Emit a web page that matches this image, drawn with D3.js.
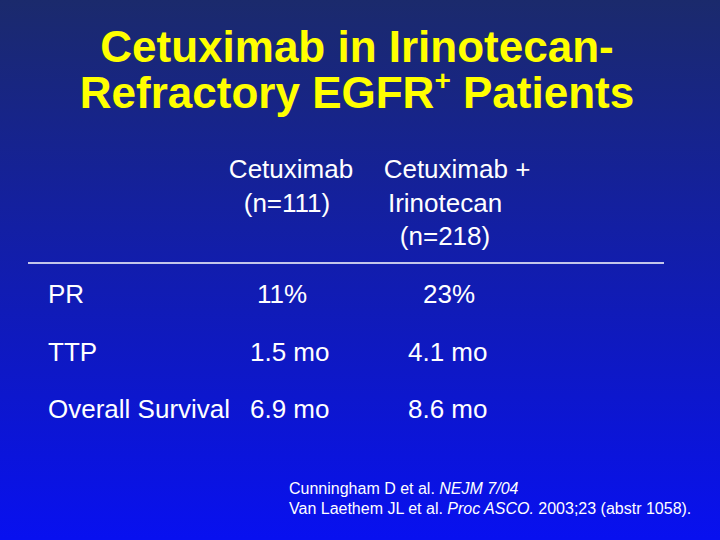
<!DOCTYPE html>
<meta charset="utf-8">
<title>Cetuximab</title>
<style>
body { margin: 0; }
text { font-family: "Liberation Sans", Arial, sans-serif; }
</style>
<body>
<script src="https://d3js.org/d3.v7.min.js"></script>
<script>

var titleLines = ["Cetuximab in Irinotecan-", "Refractory EGFR"];
var columns = [
  {lines: ["Cetuximab", "(n=111)"], dx: [0, -4]},
  {lines: ["Cetuximab +", "Irinotecan", "(n=218)"], dx: [0, -12, -12]}
];
var rows = ["PR", "TTP", "Overall Survival"];
var cetuximab = ["11%", "1.5 mo", "6.9 mo"];
var combo = ["23%", "4.1 mo", "8.6 mo"];
var refs = [
  [["Cunningham D et al. ", "normal"], ["NEJM 7/04", "italic"]],
  [["Van Laethem JL et al. ", "normal"], ["Proc ASCO.", "italic"], [" 2003;23 (abstr 1058).", "normal"]]
];

var svg = d3.select("body").append("svg")
    .attr("width", 720)
    .attr("height", 540);

// Background gradient, navy at top to bright blue at bottom.
var grad = svg.append("defs").append("linearGradient")
    .attr("id", "bg").attr("x1", 0).attr("y1", 0).attr("x2", 0).attr("y2", 1);
grad.append("stop").attr("offset", 0).attr("stop-color", "#1b2a6c");
grad.append("stop").attr("offset", 1).attr("stop-color", "#0810f0");
svg.append("rect").attr("width", 720).attr("height", 540).attr("fill", "url(#bg)");

// Title
var title = svg.selectAll(".title")
    .data(titleLines)
  .enter().append("text")
    .attr("class", "title")
    .attr("x", 357)
    .attr("y", function(d, i) { return 62 + i * 46; })
    .attr("text-anchor", "middle")
    .attr("fill", "#ffff00")
    .attr("font-size", 44)
    .attr("font-weight", "bold")
    .text(function(d) { return d; });
title.filter(function(d, i) { return i == 1; })
  .append("tspan").attr("dy", -18).attr("font-size", 28).text("+");
title.filter(function(d, i) { return i == 1; })
  .append("tspan").attr("dy", 18).text(" Patients");

// Column scale
var x = d3.scalePoint().domain([0, 1]).range([291, 457]);
var y = d3.scalePoint().domain(rows).range([303, 418]);

svg.selectAll(".head")
    .data(columns)
  .enter().append("g")
    .attr("class", "head")
    .selectAll("text")
    .data(function(d, i) { return d.lines.map(function(l, j) { return {t: l, x: x(i) + d.dx[j], j: j}; }); })
  .enter().append("text")
    .attr("x", function(d) { return d.x; })
    .attr("y", function(d) { return 178 + d.j * 33.5; })
    .attr("text-anchor", "middle")
    .attr("fill", "#fff")
    .attr("font-size", 26)
    .text(function(d) { return d.t; });

svg.append("line")
    .attr("x1", 28).attr("x2", 664)
    .attr("y1", 263).attr("y2", 263)
    .attr("stroke", "#fff").attr("stroke-width", 1.5);

var row = svg.selectAll(".row")
    .data(rows)
  .enter().append("g")
    .attr("class", "row")
    .attr("transform", function(d) { return "translate(0," + y(d) + ")"; })
    .attr("fill", "#fff")
    .attr("font-size", 26);
row.append("text").attr("x", 48).text(function(d) { return d; });
row.append("text").attr("x", 250).attr("dx", function(d, i) { return i == 0 ? 7 : 0; })
    .text(function(d, i) { return cetuximab[i]; });
row.append("text").attr("x", 408).attr("dx", function(d, i) { return i == 0 ? 15 : 0; })
    .text(function(d, i) { return combo[i]; });

// References
svg.selectAll(".ref")
    .data(refs)
  .enter().append("text")
    .attr("class", "ref")
    .attr("x", 289)
    .attr("y", function(d, i) { return 494 + i * 20; })
    .attr("fill", "#fff")
    .attr("font-size", 16)
    .selectAll("tspan")
    .data(function(d) { return d; })
  .enter().append("tspan")
    .attr("font-style", function(d) { return d[1]; })
    .text(function(d) { return d[0]; });

</script>
</body>
